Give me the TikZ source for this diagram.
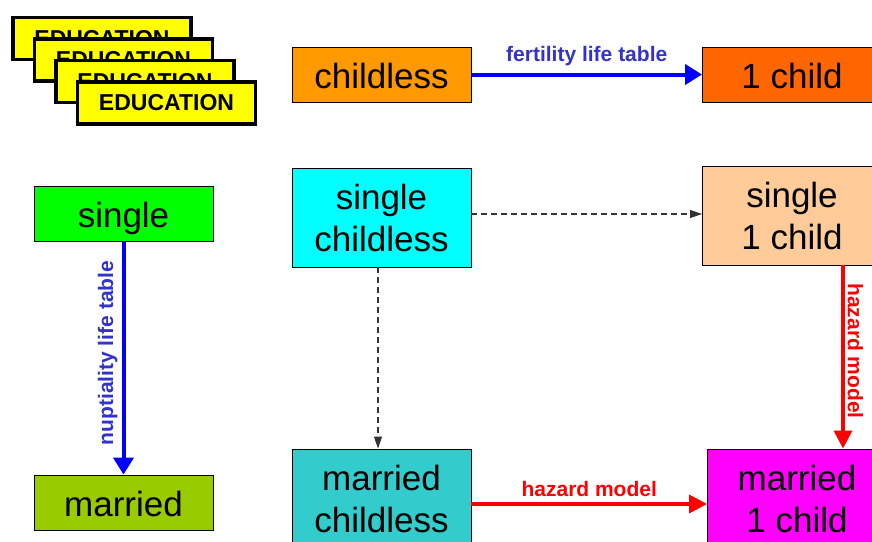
\documentclass[tikz,border=0pt]{standalone}
\usepackage{fontspec}
\setmainfont{Liberation Sans}
\usetikzlibrary{arrows.meta}
\definecolor{cChildless}{HTML}{FF9900}
\definecolor{cOne}{HTML}{FF6600}
\definecolor{cSingle}{HTML}{00FF00}
\definecolor{cMarried}{HTML}{99CC00}
\definecolor{cSC}{HTML}{00FFFF}
\definecolor{cMC}{HTML}{33CCCC}
\definecolor{cSO}{HTML}{FFCC99}
\definecolor{cMO}{HTML}{FF00FF}
\definecolor{cLblBlue}{HTML}{3333CC}
\definecolor{cEdu}{HTML}{FFFF00}
\tikzset{
  box/.style={draw=black, line width=0.9pt, inner sep=0pt, align=center,
    font=\fontsize{35}{42}\selectfont},
  smallbox/.style={box, minimum width=179, minimum height=55, text height=27pt, text depth=0pt},
  bigbox/.style={box, minimum width=179, minimum height=99},
  edubox/.style={draw=black, fill=cEdu, line width=3.5pt, minimum width=178,
    minimum height=42, inner sep=0pt, font=\fontsize{23}{26}\selectfont\bfseries},
  bluearrow/.style={draw=blue, line width=4pt, -{Triangle[length=17pt,width=20pt]}},
  redarrow/.style={draw=red, line width=3.5pt, -{Triangle[length=18pt,width=18pt]}},
  dasharrow/.style={draw=black!80, line width=1.2pt, dash pattern=on 6pt off 4pt,
    -{Triangle[length=12pt,width=8pt]}},
  bluelbl/.style={text=cLblBlue, font=\fontsize{21}{25}\selectfont\bfseries, inner sep=3pt},
  redlbl/.style={text=red, font=\fontsize{21}{25}\selectfont\bfseries, inner sep=3pt}
}
\begin{document}
\begin{tikzpicture}[x=1pt,y=-1pt]
\useasboundingbox (0,0) rectangle (872,541);
\fill[white] (0,0) rectangle (872,541);
% education stack
\node[edubox] (e1) at (102,38.5) {EDUCATION};
\node[edubox] (e2) at (123.5,60) {EDUCATION};
\node[edubox] (e3) at (145,81.5) {EDUCATION};
\node[edubox] (e4) at (166.5,103) {EDUCATION};
% top row
\node[smallbox, fill=cChildless] (cl) at (381.5,74.5) {childless};
\node[smallbox, fill=cOne] (oc) at (792,74.5) {1 child};
% left column
\node[smallbox, fill=cSingle] (sg) at (123.5,213.5) {single};
\node[smallbox, fill=cMarried] (mr) at (123.5,502.5) {married};
% middle / right grid
\node[bigbox, fill=cSC] (sc) at (381.5,217.5) {single\\childless};
\node[bigbox, fill=cMC] (mc) at (381.5,498.5) {married\\childless};
\node[bigbox, fill=cSO] (so) at (792,215.5) {single\\1 child};
\node[bigbox, fill=cMO] (mo) at (797,498.5) {married\\1 child};
% connectors
\draw[bluearrow] (cl.east) -- (oc.west)
  node[midway, bluelbl, anchor=south, yshift=4pt] {fertility life table};
\draw[bluearrow] (sg.south) -- (mr.north)
  node[midway, bluelbl, rotate=90, anchor=south, yshift=1pt, xshift=5pt] {nuptiality life table};
\draw[dasharrow] ([yshift=3.5pt]sc.east) -- ([yshift=3.5pt]sc.east -| so.west);
\draw[dasharrow] ([xshift=-3.5pt]sc.south) -- ([xshift=-3.5pt]sc.south |- mc.north);
\draw[redarrow] ([xshift=51pt]so.south) -- ([xshift=51pt]so.south |- mo.north)
  node[midway, redlbl, rotate=-90, anchor=south, xshift=-6pt] {hazard model};
\draw[redarrow] ([yshift=-5.5pt]mc.east) -- ([yshift=-5.5pt]mc.east -| mo.west)
  node[midway, redlbl, anchor=south, yshift=3pt] {hazard model};
\end{tikzpicture}
\end{document}
